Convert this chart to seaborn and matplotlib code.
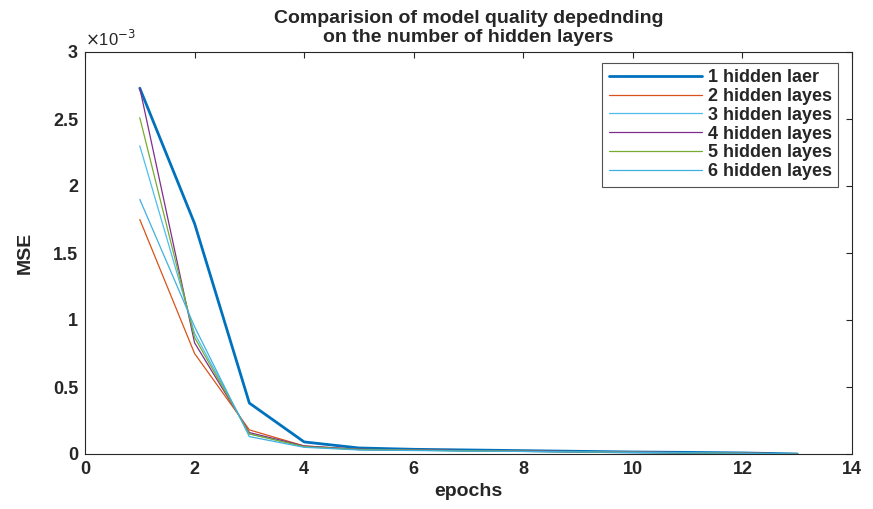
import matplotlib
matplotlib.use("Agg")
import matplotlib.pyplot as plt
import seaborn as sns
import pandas as pd

epochs = list(range(1, 14))
labels = ["1 hidden laer", "2 hidden layes", "3 hidden layes",
          "4 hidden layes", "5 hidden layes", "6 hidden layes"]
# MSE values in units of 1e-3
mse_1 = [2.73, 1.72, 0.38, 0.09, 0.045, 0.035, 0.03, 0.025, 0.02, 0.015, 0.012, 0.008, 0.0]
mse_2 = [1.75, 0.75, 0.18, 0.06, 0.035, 0.03, 0.025, 0.022, 0.018, 0.014, 0.01, 0.007, 0.0]
mse_3 = [2.30, 0.90, 0.15, 0.055, 0.033, 0.028, 0.024, 0.02, 0.017, 0.013, 0.01, 0.006, 0.0]
mse_4 = [2.73, 0.83, 0.16, 0.06, 0.034, 0.029, 0.025, 0.021, 0.017, 0.013, 0.01, 0.007, 0.0]
mse_5 = [2.51, 0.87, 0.15, 0.055, 0.033, 0.028, 0.024, 0.02, 0.016, 0.012, 0.009, 0.006, 0.0]
mse_6 = [1.90, 0.95, 0.13, 0.05, 0.03, 0.026, 0.022, 0.019, 0.016, 0.012, 0.009, 0.005, 0.0]
series = [mse_1, mse_2, mse_3, mse_4, mse_5, mse_6]

colors = ["#0072BD", "#D95319", "#4DBEEE", "#7E2F8E", "#77AC30", "#3FB0E0"]
widths = [2.0, 0.9, 0.9, 0.9, 0.9, 0.9]

sns.set_style("white")
plt.rcParams['font.family'] = ['Liberation Sans', 'DejaVu Sans']

fig = plt.figure(figsize=(8.73, 5.09), dpi=100)
ax = fig.add_axes([85/873, 1 - 454/509, (852-85)/873, (454-52)/509])

for lab, vals, c, w in zip(labels, series, colors, widths):
    df = pd.DataFrame({"epochs": epochs, "MSE": vals})
    sns.lineplot(data=df, x="epochs", y="MSE", ax=ax, color=c, linewidth=w, legend=False)

ax.set_xlim(0, 14)
ax.set_ylim(0, 3)
ax.set_xticks(range(0, 15, 2))
ax.set_yticks([0, 0.5, 1, 1.5, 2, 2.5, 3])
ax.set_yticklabels(["0", "0.5", "1", "1.5", "2", "2.5", "3"])
ax.tick_params(direction="in", top=True, right=True, length=4, width=0.8,
               labelsize=13, colors="#262626", pad=5)
for t in ax.get_xticklabels() + ax.get_yticklabels():
    t.set_fontweight("bold")
for s in ax.spines.values():
    s.set_color("#262626")
    s.set_linewidth(0.8)

ax.set_xlabel("epochs", fontsize=14, fontweight="bold", color="#262626", labelpad=4)
ax.set_ylabel("MSE", fontsize=14, fontweight="bold", color="#262626", labelpad=14)
ax.set_title("Comparision of model quality depednding\non the number of hidden layers",
             fontsize=14, fontweight="bold", color="#262626", pad=7, linespacing=1.2)
ax.text(0.0, 1.008, r"$\times$10$^{-3}$", transform=ax.transAxes, fontsize=12,
        color="#262626", ha="left", va="bottom")

lines = ax.get_lines()[:len(labels)]
leg = ax.legend(lines, labels, loc="upper right", bbox_to_anchor=(0.982, 0.973), frameon=True,
                fancybox=False, edgecolor="#262626", fontsize=13, borderaxespad=0,
                handlelength=5.2, labelspacing=0.1, borderpad=0.35, handletextpad=0.3)
leg.get_frame().set_linewidth(0.8)
for t in leg.get_texts():
    t.set_fontweight("bold")
    t.set_color("#262626")

fig.savefig("out.png", dpi=100)
